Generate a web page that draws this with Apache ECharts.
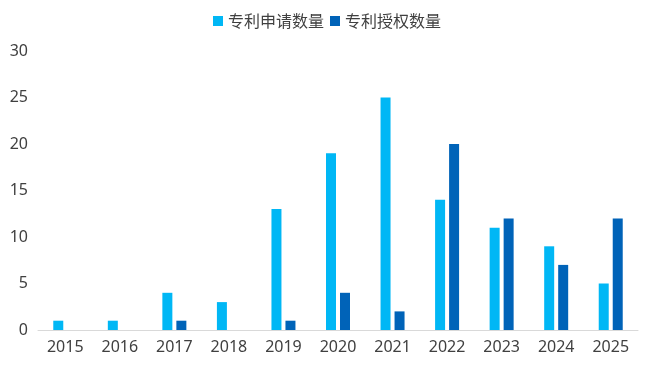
<!DOCTYPE html>
<html><head><meta charset="utf-8">
<script src="https://cdn.jsdelivr.net/npm/echarts@6/dist/echarts.min.js"></script>
<style>html,body{margin:0;padding:0;background:#fff}#c{width:654px;height:369px}</style>
</head><body><div id="c"></div>
<script>
const categories = ['2015','2016','2017','2018','2019','2020','2021','2022','2023','2024','2025'];
const applications = [1,1,4,3,13,19,25,14,11,9,5];
const grants = [0,0,1,0,1,4,2,20,12,7,12];
const seriesNames = ['专利申请数量','专利授权数量'];
const yTicks = {min:0,max:30,interval:5};

const chart = echarts.init(document.getElementById('c'));
const font = '"Noto Sans CJK SC", "Noto Sans", sans-serif';
const numFont = '"Noto Sans", "Noto Sans CJK SC", sans-serif';
chart.setOption({
  animation:false,
  textStyle:{fontFamily:font},
  legend:{top:8,left:'center',icon:'rect',itemWidth:10,itemHeight:10,itemGap:6,
    textStyle:{fontSize:16,color:'#404040',fontFamily:font},
    data:seriesNames},
  grid:{left:38,right:16,top:51,bottom:39,containLabel:false},
  xAxis:{type:'category',data:categories,
    axisLine:{lineStyle:{color:'#d9d9d9'}},axisTick:{show:false},
    axisLabel:{fontSize:16,color:'#404040',margin:9,fontFamily:numFont}},
  yAxis:{type:'value',min:yTicks.min,max:yTicks.max,interval:yTicks.interval,
    splitLine:{show:false},axisLine:{show:false},axisTick:{show:false},
    axisLabel:{fontSize:16,color:'#404040',margin:10,fontFamily:numFont}},
  series:[
    {name:seriesNames[0],type:'bar',data:applications,barWidth:10,barGap:'40%',itemStyle:{color:'#00b7f5'}},
    {name:seriesNames[1],type:'bar',data:grants,barWidth:10,itemStyle:{color:'#0063b8'}}
  ]
});
</script></body></html>
